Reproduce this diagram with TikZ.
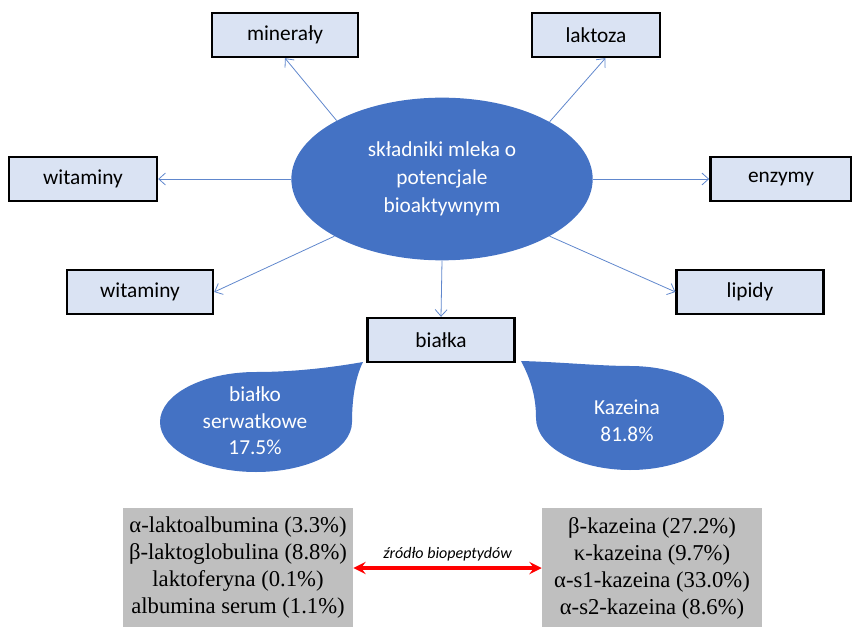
\documentclass[tikz,border=0pt]{standalone}
\usepackage{fontspec}
\setmainfont{Carlito}
\newfontfamily\listfont{Liberation Serif}
\usetikzlibrary{shapes.geometric,arrows.meta}
\definecolor{milkblue}{HTML}{4472C4}
\definecolor{boxblue}{HTML}{DAE3F3}
\definecolor{listgray}{HTML}{BFBFBF}
\tikzset{
  item/.style={draw=black, line width=1.8pt, fill=boxblue, minimum height=33pt,
    inner sep=0pt, font=\fontsize{16}{19}\selectfont},
  link/.style={-{Straight Barb[length=5pt,width=9pt]}, milkblue!85, line width=0.6pt},
  drop/.style={text=white, align=center, font=\fontsize{16}{20}\selectfont},
  list/.style={fill=listgray, minimum height=90pt, inner sep=0pt, align=center,
    font=\listfont\fontsize{17}{20.25}\selectfont},
}
\begin{document}
\begin{tikzpicture}[x=0.75pt, y=-0.75pt]
  \useasboundingbox (0,0) rectangle (852,627);
  \node[ellipse, fill=milkblue, minimum width=226pt, minimum height=122pt, inner sep=0pt,
    text=white, align=center, font=\fontsize{16}{21}\selectfont] (core) at (442,179)
    {składniki mleka o\\potencjale\\bioaktywnym};
  \node[item, minimum width=109.5pt] (mineral) at (285,35) {minerały};
  \node[item, minimum width=96pt] (lactose) at (596,35) {laktoza};
  \node[item, minimum width=111pt] (vitA) at (83,179) {witaminy};
  \node[item, minimum width=106pt] (enzyme) at (781,179) {enzymy};
  \node[item, minimum width=109.5pt] (vitB) at (140,292) {witaminy};
  \node[item, minimum width=110pt] (lipid) at (750,292) {lipidy};
  \node[item, minimum width=110pt] (protein) at (441,340) {białka};
  % arrows out of the ellipse
  \draw[link] (core.151.5) -- (mineral.south);
  \draw[link] (core.28.2) -- (lactose.-68);
  \draw[link] (core.west) -- (vitA.east);
  \draw[link] (core.east) -- (enzyme.west);
  \draw[link] (core.208) -- (vitB.east);
  \draw[link] (core.-28) -- (lipid.west);
  \draw[link] (core.south) -- (protein.north);
  % the two drops
  \fill[milkblue] (256,372) .. controls (300,372) and (340,366) .. (363,362)
    .. controls (355,378) and (352,400) .. (352,422)
    .. controls (352,449.6) and (309,472) .. (256,472)
    .. controls (203,472) and (160,449.6) .. (160,422)
    .. controls (160,394.4) and (203,372) .. cycle;
  \fill[milkblue] (521,361) .. controls (560,362) and (600,366) .. (630,366)
    .. controls (682,366) and (724,389) .. (724,418)
    .. controls (724,446.7) and (682,470) .. (630,470)
    .. controls (578,470) and (536,446.7) .. (536,418)
    .. controls (536,395) and (530,378) .. cycle;
  \node[drop] (whey) at (255,421) {białko\\serwatkowe\\17.5\%};
  \node[drop] (casein) at (627,421) {Kazeina\\81.8\%};
  % fractions
  \node[list, minimum width=172.5pt] (wheylist) at (238,568)
    {α-laktoalbumina (3.3\%)\\β-laktoglobulina (8.8\%)\\laktoferyna (0.1\%)\\albumina serum (1.1\%)};
  \node[list, minimum width=165pt] (caseinlist) at (652,568)
    {β-kazeina (27.2\%)\\κ-kazeina (9.7\%)\\α-s1-kazeina (33.0\%)\\α-s2-kazeina (8.6\%)};
  \draw[red, line width=3pt, stealth-stealth] (wheylist.east) -- (caseinlist.west)
    node[midway, above, text=black, font=\itshape\fontsize{12}{14}\selectfont] {źródło biopeptydów};
\end{tikzpicture}
\end{document}
